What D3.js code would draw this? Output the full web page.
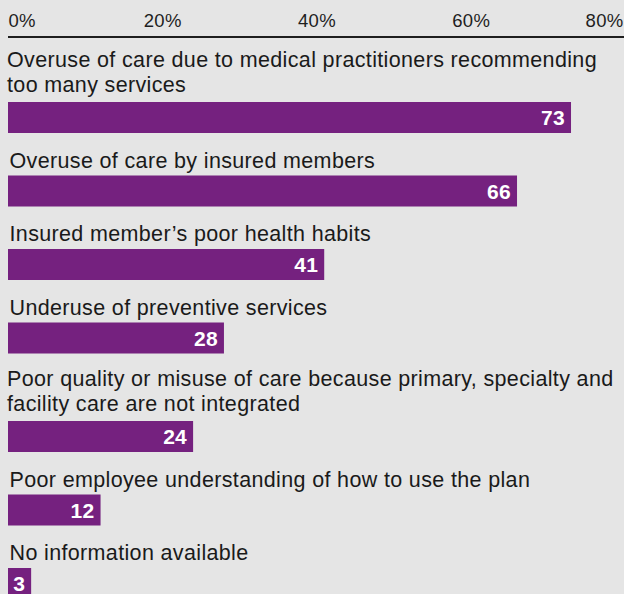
<!DOCTYPE html>
<html>
<head>
<meta charset="utf-8">
<script src="https://cdn.jsdelivr.net/npm/d3@7/dist/d3.min.js"></script>
<style>
  html, body { margin: 0; padding: 0; background: #e5e5e5; }
  svg { display: block; font-family: "Liberation Sans", Arial, Helvetica, sans-serif; }
</style>
</head>
<body>
<svg id="chart" width="624" height="594"></svg>
<script>
// Reasons cited for rising health costs (% of respondents)
const categories = [
  "Overuse of care due to medical practitioners recommending\ntoo many services",
  "Overuse of care by insured members",
  "Insured member\u2019s poor health habits",
  "Underuse of preventive services",
  "Poor quality or misuse of care because primary, specialty and\nfacility care are not integrated",
  "Poor employee understanding of how to use the plan",
  "No information available"
];
const values = [73, 66, 41, 28, 24, 12, 3];
const tickValues = [0, 20, 40, 60, 80];
const tickLabels = ["0%", "20%", "40%", "60%", "80%"];

const W = 624, H = 594;
const svg = d3.select("#chart");
svg.append("rect").attr("width", W).attr("height", H).attr("fill", "#e5e5e5");

const x = d3.scaleLinear().domain([0, 80]).range([8, 625]);

// Axis along the top: labels above a solid rule, no tick marks
const axisY = 37;
const axis = d3.axisTop(x)
  .tickValues(tickValues)
  .tickFormat((d, i) => tickLabels[i])
  .tickSize(0)
  .tickSizeOuter(0)
  .tickPadding(10);

const gAxis = svg.append("g").attr("transform", `translate(0,${axisY})`).call(axis);
gAxis.select(".domain").attr("stroke", "#1e1e1e").attr("stroke-width", 2).attr("d", `M${x(0)},0H${W}`);
gAxis.selectAll(".tick text")
  .attr("fill", "#1e1e1e")
  .attr("font-size", 18.5)
  .attr("letter-spacing", 0.3)
  .attr("font-family", "'Liberation Sans', Arial, sans-serif")
  .attr("text-anchor", (d, i, n) => i === 0 ? "start" : (i === n.length - 1 ? "end" : "middle"))
  .attr("dx", (d, i, n) => i === n.length - 1 ? -2 : 0);

// Row layout: each row is its label lines followed by the bar
const barH = 31, lineH = 25, rowGap = 17.5, labelGap = 8;
const rows = categories.map((c, i) => ({ lines: c.split("\n"), value: values[i] }));
let cursorY = 102;
rows.forEach((r, i) => {
  if (i > 0) cursorY += barH + rowGap + lineH * r.lines.length;
  r.barTop = cursorY;
});

const g = svg.append("g");
const row = g.selectAll("g.row").data(rows).join("g").attr("class", "row");

row.append("text")
  .attr("fill", "#1a1a1a")
  .attr("font-size", 21.5)
  .attr("letter-spacing", 0.35)
  .selectAll("tspan")
  .data(r => r.lines.map((t, j) => ({ t, j, r })))
  .join("tspan")
  .attr("x", d => d.r.lines.length > 1 ? 7 : 9.5)
  .attr("y", d => d.r.barTop - (d.r.lines.length > 1 ? 10 : labelGap) - (d.r.lines.length - 1 - d.j) * lineH)
  .text(d => d.t);

row.append("rect")
  .attr("x", x(0))
  .attr("y", r => r.barTop)
  .attr("width", r => x(r.value) - x(0))
  .attr("height", barH)
  .attr("fill", "#75217f");

row.append("text")
  .attr("x", r => x(r.value) - 6)
  .attr("y", r => r.barTop + barH / 2 + 7.5)
  .attr("text-anchor", "end")
  .attr("fill", "#ffffff")
  .attr("font-weight", "bold")
  .attr("font-size", 21)
  .attr("letter-spacing", 0.3)
  .text(r => r.value);
</script>
</body>
</html>
